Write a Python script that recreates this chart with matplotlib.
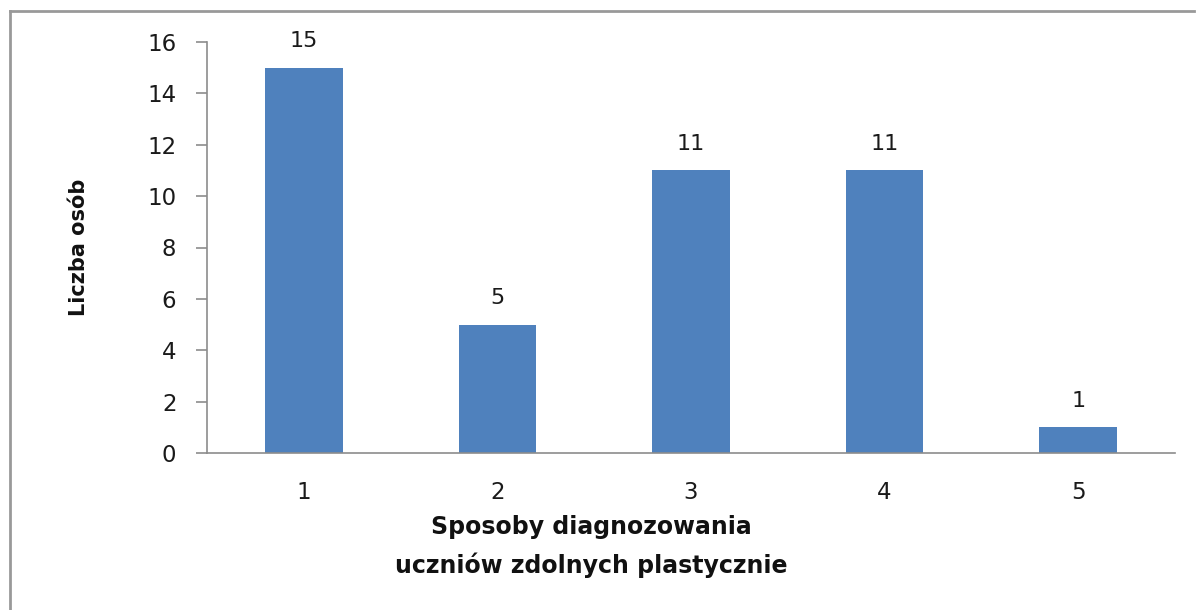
import matplotlib
matplotlib.use("Agg")
import matplotlib.pyplot as plt
from matplotlib.lines import Line2D

categories = ["1", "2", "3", "4", "5"]
values = [15, 5, 11, 11, 1]
yticks = [0, 2, 4, 6, 8, 10, 12, 14, 16]

plt.rcParams['font.family'] = ['DejaVu Sans']

W, H = 1197, 610
fig = plt.figure(figsize=(W / 100, H / 100), dpi=100)
ax = fig.add_axes([207 / W, 1 - 453 / H, (1175 - 207) / W, (453 - 42) / H])

x = list(range(len(categories)))
bars = ax.bar(x, values, width=0.4, color="#4F81BD")
for xi, v in zip(x, values):
    ax.annotate(str(v), (xi, v), xytext=(0, 12), textcoords="offset points",
                ha="center", va="bottom", fontsize=16, color="#1a1a1a")

ax.set_xlim(-0.5, len(categories) - 0.5)
ax.set_ylim(0, 16)
ax.set_yticks(yticks)
ax.set_xticks(x)
ax.set_xticklabels(categories)
for s in ["top", "right"]:
    ax.spines[s].set_visible(False)
for s in ["left", "bottom"]:
    ax.spines[s].set_color("#8c8c8c")
    ax.spines[s].set_linewidth(1.2)
ax.tick_params(axis="y", length=8, width=1.2, color="#8c8c8c", labelsize=16.5,
               labelcolor="#1a1a1a", pad=14)
ax.tick_params(axis="x", length=0, labelsize=16.5, labelcolor="#1a1a1a", pad=20)

ax.set_ylabel("Liczba osób", fontsize=15, fontweight="bold", labelpad=42, color="#111111")
ax.set_xlabel("Sposoby diagnozowania\nuczniów zdolnych plastycznie", fontsize=17,
              fontweight="bold", color="#111111", linespacing=1.7,
              ha="center", va="center")
ax.xaxis.set_label_coords((591 - 207) / 968, -(546.5 - 453) / (453 - 42))

# outer frame (left and top only visible)
fig.add_artist(Line2D([10 / W, 10 / W], [0, 1 - 11 / H], transform=fig.transFigure,
                      color="#999999", linewidth=2))
fig.add_artist(Line2D([10 / W, 1194 / W], [1 - 11 / H, 1 - 11 / H], transform=fig.transFigure,
                      color="#999999", linewidth=2))

fig.savefig("out.png", dpi=100, facecolor="white")
